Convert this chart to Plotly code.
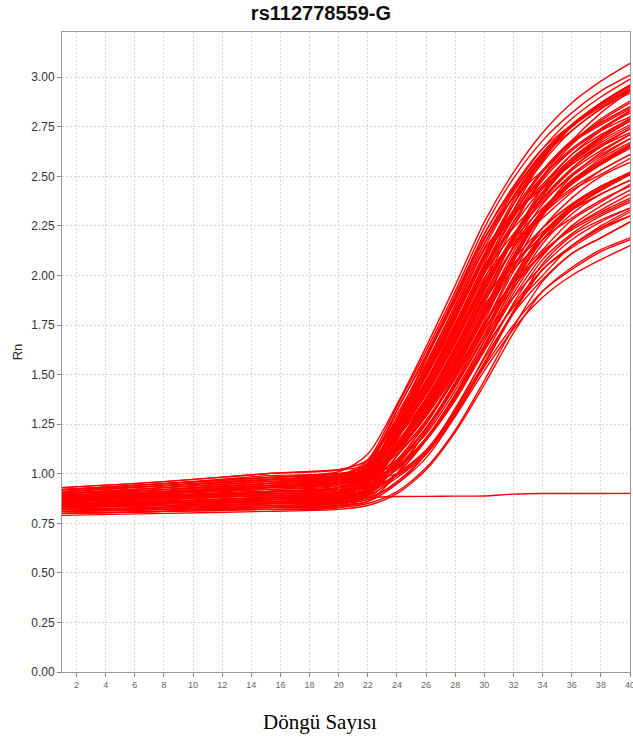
import plotly.graph_objects as go

cycles = [1, 8, 15, 20, 22, 24, 26, 28, 30, 32, 34, 36, 38, 40]

# Rn values of the amplification curves (one list per well)
curves = [
    [0.92, 0.95, 0.99, 1.01, 1.10, 1.35, 1.64, 1.95, 2.27, 2.52, 2.72, 2.87, 2.98, 3.07],
    [0.88, 0.90, 0.93, 0.95, 1.03, 1.32, 1.59, 1.89, 2.21, 2.44, 2.64, 2.79, 2.90, 2.99],
    [0.91, 0.94, 0.97, 0.99, 1.07, 1.34, 1.62, 1.92, 2.24, 2.49, 2.68, 2.82, 2.93, 3.01],
    [0.84, 0.86, 0.88, 0.89, 0.97, 1.24, 1.55, 1.85, 2.16, 2.40, 2.59, 2.76, 2.87, 2.96],
    [0.89, 0.92, 0.95, 0.97, 1.05, 1.32, 1.60, 1.90, 2.21, 2.45, 2.64, 2.76, 2.86, 2.94],
    [0.86, 0.88, 0.91, 0.92, 1.00, 1.28, 1.58, 1.88, 2.19, 2.39, 2.53, 2.67, 2.79, 2.88],
    [0.90, 0.93, 0.96, 0.98, 1.06, 1.28, 1.54, 1.83, 2.14, 2.40, 2.62, 2.76, 2.87, 2.95],
    [0.82, 0.83, 0.85, 0.86, 0.94, 1.24, 1.58, 1.87, 2.18, 2.43, 2.61, 2.75, 2.86, 2.94],
    [0.87, 0.89, 0.91, 0.93, 1.01, 1.28, 1.53, 1.82, 2.13, 2.31, 2.46, 2.61, 2.71, 2.79],
    [0.93, 0.96, 1.00, 1.02, 1.07, 1.30, 1.56, 1.85, 2.16, 2.42, 2.62, 2.75, 2.85, 2.93],
    [0.85, 0.87, 0.89, 0.90, 0.98, 1.25, 1.49, 1.78, 2.08, 2.36, 2.59, 2.76, 2.87, 2.96],
    [0.91, 0.94, 0.97, 0.99, 1.05, 1.28, 1.54, 1.83, 2.13, 2.31, 2.44, 2.56, 2.66, 2.74],
    [0.80, 0.81, 0.83, 0.84, 0.92, 1.20, 1.50, 1.81, 2.11, 2.36, 2.57, 2.73, 2.84, 2.94],
    [0.88, 0.90, 0.92, 0.94, 1.02, 1.26, 1.51, 1.80, 2.10, 2.33, 2.53, 2.68, 2.77, 2.85],
    [0.86, 0.88, 0.90, 0.91, 0.99, 1.27, 1.52, 1.80, 2.10, 2.38, 2.61, 2.75, 2.86, 2.94],
    [0.92, 0.95, 0.98, 1.00, 1.04, 1.24, 1.47, 1.75, 2.05, 2.24, 2.39, 2.54, 2.65, 2.74],
    [0.83, 0.84, 0.86, 0.87, 0.95, 1.24, 1.50, 1.78, 2.08, 2.32, 2.50, 2.64, 2.74, 2.82],
    [0.89, 0.91, 0.94, 0.96, 1.04, 1.24, 1.46, 1.74, 2.04, 2.33, 2.58, 2.75, 2.87, 2.96],
    [0.85, 0.86, 0.88, 0.89, 0.97, 1.24, 1.51, 1.79, 2.09, 2.30, 2.45, 2.59, 2.69, 2.78],
    [0.87, 0.89, 0.91, 0.93, 1.01, 1.23, 1.46, 1.73, 2.03, 2.30, 2.53, 2.67, 2.76, 2.84],
    [0.81, 0.82, 0.84, 0.85, 0.91, 1.18, 1.45, 1.72, 2.02, 2.27, 2.48, 2.63, 2.74, 2.83],
    [0.90, 0.93, 0.96, 0.98, 1.03, 1.25, 1.49, 1.76, 2.06, 2.36, 2.60, 2.73, 2.84, 2.92],
    [0.85, 0.87, 0.89, 0.90, 0.98, 1.22, 1.44, 1.71, 2.01, 2.21, 2.38, 2.53, 2.63, 2.71],
    [0.88, 0.90, 0.93, 0.95, 1.03, 1.24, 1.47, 1.74, 2.04, 2.29, 2.50, 2.63, 2.73, 2.80],
    [0.83, 0.85, 0.87, 0.88, 0.96, 1.20, 1.40, 1.67, 1.96, 2.25, 2.50, 2.68, 2.82, 2.93],
    [0.89, 0.91, 0.94, 0.96, 1.02, 1.22, 1.45, 1.72, 2.01, 2.25, 2.44, 2.57, 2.67, 2.75],
    [0.86, 0.88, 0.90, 0.91, 0.99, 1.21, 1.43, 1.70, 1.99, 2.17, 2.31, 2.43, 2.51, 2.59],
    [0.92, 0.95, 0.98, 1.00, 1.02, 1.20, 1.42, 1.69, 1.98, 2.27, 2.49, 2.66, 2.78, 2.87],
    [0.80, 0.81, 0.82, 0.83, 0.89, 1.18, 1.46, 1.73, 2.02, 2.31, 2.52, 2.67, 2.77, 2.85],
    [0.87, 0.89, 0.91, 0.93, 1.01, 1.18, 1.38, 1.64, 1.93, 2.20, 2.44, 2.61, 2.73, 2.83],
    [0.84, 0.85, 0.87, 0.88, 0.96, 1.20, 1.41, 1.67, 1.96, 2.18, 2.34, 2.47, 2.57, 2.65],
    [0.90, 0.92, 0.95, 0.97, 1.01, 1.18, 1.37, 1.63, 1.92, 2.19, 2.42, 2.58, 2.70, 2.79],
    [0.82, 0.83, 0.85, 0.86, 0.92, 1.17, 1.42, 1.68, 1.97, 2.16, 2.29, 2.42, 2.53, 2.61],
    [0.88, 0.90, 0.93, 0.95, 1.01, 1.19, 1.40, 1.66, 1.95, 2.20, 2.42, 2.56, 2.65, 2.72],
    [0.86, 0.88, 0.90, 0.91, 0.99, 1.16, 1.36, 1.62, 1.90, 2.18, 2.42, 2.59, 2.70, 2.79],
    [0.91, 0.94, 0.97, 0.99, 1.01, 1.19, 1.40, 1.66, 1.94, 2.19, 2.37, 2.50, 2.60, 2.69],
    [0.83, 0.85, 0.86, 0.87, 0.93, 1.14, 1.35, 1.61, 1.89, 2.06, 2.20, 2.33, 2.41, 2.48],
    [0.89, 0.91, 0.94, 0.96, 1.00, 1.18, 1.38, 1.64, 1.92, 2.20, 2.41, 2.57, 2.68, 2.76],
    [0.80, 0.81, 0.83, 0.84, 0.90, 1.14, 1.34, 1.60, 1.88, 2.14, 2.36, 2.51, 2.61, 2.69],
    [0.85, 0.87, 0.89, 0.90, 0.95, 1.14, 1.37, 1.61, 1.89, 2.18, 2.39, 2.54, 2.65, 2.74],
    [0.92, 0.95, 0.98, 1.00, 1.02, 1.15, 1.35, 1.59, 1.87, 2.08, 2.24, 2.36, 2.45, 2.51],
    [0.87, 0.89, 0.91, 0.93, 0.98, 1.14, 1.34, 1.58, 1.86, 2.15, 2.40, 2.57, 2.69, 2.78],
    [0.82, 0.83, 0.85, 0.86, 0.91, 1.14, 1.38, 1.62, 1.90, 2.14, 2.32, 2.44, 2.53, 2.61],
    [0.88, 0.90, 0.93, 0.95, 0.99, 1.14, 1.33, 1.57, 1.85, 2.03, 2.18, 2.33, 2.44, 2.52],
    [0.84, 0.85, 0.87, 0.88, 0.93, 1.12, 1.33, 1.56, 1.83, 2.12, 2.33, 2.47, 2.56, 2.64],
    [0.90, 0.93, 0.96, 0.98, 1.00, 1.12, 1.29, 1.52, 1.79, 2.07, 2.32, 2.50, 2.62, 2.71],
    [0.86, 0.88, 0.90, 0.91, 0.95, 1.13, 1.34, 1.57, 1.84, 2.05, 2.22, 2.33, 2.41, 2.48],
    [0.81, 0.82, 0.84, 0.85, 0.89, 1.09, 1.31, 1.55, 1.82, 2.10, 2.32, 2.46, 2.56, 2.65],
    [0.93, 0.96, 1.00, 1.02, 1.04, 1.12, 1.31, 1.54, 1.81, 2.10, 2.33, 2.47, 2.57, 2.65],
    [0.87, 0.89, 0.91, 0.93, 0.96, 1.13, 1.32, 1.55, 1.81, 2.09, 2.32, 2.48, 2.58, 2.66],
    [0.83, 0.85, 0.86, 0.87, 0.90, 1.06, 1.26, 1.50, 1.76, 1.97, 2.13, 2.28, 2.37, 2.46],
    [0.89, 0.91, 0.94, 0.96, 0.98, 1.12, 1.30, 1.53, 1.79, 2.04, 2.24, 2.36, 2.45, 2.51],
    [0.85, 0.86, 0.88, 0.89, 0.92, 1.07, 1.25, 1.49, 1.75, 2.04, 2.30, 2.46, 2.56, 2.65],
    [0.91, 0.94, 0.97, 0.99, 1.01, 1.12, 1.31, 1.54, 1.80, 2.08, 2.31, 2.47, 2.59, 2.67],
    [0.86, 0.88, 0.90, 0.91, 0.94, 1.09, 1.26, 1.48, 1.74, 2.02, 2.24, 2.39, 2.50, 2.57],
    [0.82, 0.83, 0.85, 0.86, 0.89, 1.04, 1.23, 1.46, 1.73, 1.94, 2.11, 2.24, 2.32, 2.39],
    [0.88, 0.90, 0.93, 0.95, 0.97, 1.11, 1.29, 1.51, 1.77, 2.08, 2.32, 2.48, 2.57, 2.66],
    [0.84, 0.85, 0.87, 0.88, 0.91, 1.05, 1.23, 1.46, 1.72, 1.98, 2.21, 2.35, 2.44, 2.52],
    [0.90, 0.92, 0.95, 0.97, 0.99, 1.10, 1.27, 1.49, 1.75, 1.96, 2.11, 2.24, 2.33, 2.41],
    [0.87, 0.89, 0.91, 0.92, 0.94, 1.06, 1.20, 1.42, 1.67, 1.95, 2.20, 2.34, 2.43, 2.51],
    [0.81, 0.82, 0.83, 0.84, 0.86, 1.00, 1.22, 1.46, 1.72, 1.99, 2.20, 2.34, 2.43, 2.51],
    [0.89, 0.91, 0.94, 0.96, 0.98, 1.07, 1.23, 1.45, 1.70, 1.99, 2.21, 2.35, 2.45, 2.52],
    [0.85, 0.86, 0.88, 0.89, 0.91, 1.03, 1.21, 1.44, 1.69, 1.89, 2.05, 2.18, 2.27, 2.34],
    [0.86, 0.88, 0.89, 0.90, 0.92, 1.05, 1.23, 1.44, 1.69, 1.97, 2.18, 2.29, 2.38, 2.45],
    [0.92, 0.94, 0.97, 0.99, 1.01, 1.04, 1.18, 1.39, 1.64, 1.89, 2.10, 2.25, 2.35, 2.43],
    [0.83, 0.84, 0.85, 0.86, 0.88, 1.00, 1.17, 1.40, 1.67, 1.95, 2.18, 2.33, 2.43, 2.51],
    [0.88, 0.90, 0.92, 0.94, 0.96, 1.04, 1.17, 1.38, 1.63, 1.84, 2.00, 2.15, 2.24, 2.32],
    [0.84, 0.85, 0.87, 0.88, 0.90, 1.00, 1.17, 1.39, 1.64, 1.91, 2.12, 2.23, 2.31, 2.38],
    [0.90, 0.92, 0.95, 0.97, 0.99, 1.03, 1.17, 1.37, 1.62, 1.85, 2.03, 2.15, 2.25, 2.33],
    [0.81, 0.82, 0.83, 0.84, 0.86, 0.95, 1.10, 1.32, 1.59, 1.86, 2.08, 2.21, 2.30, 2.37],
    [0.87, 0.89, 0.91, 0.92, 0.94, 1.02, 1.18, 1.40, 1.65, 1.93, 2.16, 2.31, 2.41, 2.48],
    [0.85, 0.86, 0.88, 0.89, 0.91, 1.00, 1.12, 1.32, 1.56, 1.82, 2.03, 2.15, 2.24, 2.30],
    [0.82, 0.83, 0.84, 0.85, 0.87, 0.96, 1.10, 1.33, 1.58, 1.81, 1.98, 2.11, 2.19, 2.27],
    [0.89, 0.91, 0.93, 0.95, 0.97, 1.00, 1.11, 1.31, 1.55, 1.82, 2.06, 2.20, 2.28, 2.34],
    [0.83, 0.84, 0.85, 0.86, 0.88, 0.95, 1.08, 1.29, 1.55, 1.81, 2.03, 2.14, 2.23, 2.30],
    [0.86, 0.88, 0.90, 0.91, 0.93, 0.99, 1.11, 1.30, 1.54, 1.75, 1.92, 2.03, 2.12, 2.18],
    [0.80, 0.81, 0.82, 0.83, 0.85, 0.91, 1.03, 1.22, 1.47, 1.74, 1.97, 2.11, 2.19, 2.27],
    [0.84, 0.85, 0.86, 0.87, 0.89, 0.98, 1.10, 1.29, 1.52, 1.73, 1.89, 2.00, 2.08, 2.15],
    [0.79, 0.80, 0.81, 0.82, 0.84, 0.90, 1.02, 1.21, 1.45, 1.71, 1.92, 2.04, 2.13, 2.19],
]

# the one well that never amplified
flat_curve = [0.85, 0.86, 0.87, 0.87, 0.88, 0.885, 0.886, 0.887, 0.888, 0.897, 0.900, 0.900, 0.900, 0.901]

x_ticks = list(range(2, 41, 2))
y_ticks = [0.00, 0.25, 0.50, 0.75, 1.00, 1.25, 1.50, 1.75, 2.00, 2.25, 2.50, 2.75, 3.00]

title_text = "rs112778559-G"
x_title = "Döngü Sayısı"
y_title = "Rn"

fig = go.Figure()
for ys in curves + [flat_curve]:
    fig.add_trace(go.Scatter(
        x=cycles, y=ys, mode="lines",
        line=dict(color="rgb(255,0,0)", width=1.4, shape="spline", smoothing=0.8),
        showlegend=False, hoverinfo="skip",
    ))

grid = dict(showgrid=True, gridcolor="#d6d6d6", gridwidth=1, griddash="2px,2px")
fig.update_xaxes(
    range=[1, 40], tickvals=x_ticks, ticks="outside", ticklen=4, tickcolor="#888",
    tickfont=dict(family="Liberation Sans, Arial", size=9, color="#666"),
    ticklabeloverflow="allow",
    showline=True, linecolor="#999", linewidth=1, mirror=True, zeroline=False, **grid,
)
fig.update_yaxes(
    range=[0, 3.228], tickvals=y_ticks, tickformat=".2f", ticks="outside", ticklen=4,
    tickcolor="#888", tickfont=dict(family="Liberation Sans, Arial", size=12, color="#333"),
    showline=True, linecolor="#999", linewidth=1, mirror=True, zeroline=False,
    title=dict(text=y_title, font=dict(family="Liberation Sans, Arial", size=13, color="#222"), standoff=5),
    **grid,
)

fig.update_layout(
    width=633, height=740,
    margin=dict(l=62, r=3, t=32, b=68, autoexpand=False),
    paper_bgcolor="white", plot_bgcolor="white",
    title=dict(text="<b>" + title_text + "</b>", x=0.507, xref="container", xanchor="center",
               y=0.983, yref="container", yanchor="middle",
               font=dict(family="Liberation Sans, Arial", size=20, color="#111")),
    annotations=[dict(
        text=x_title, xref="paper", yref="paper", x=(320 - 62) / 568, y=(672.3 - 722) / 640,
        xanchor="center", yanchor="middle", showarrow=False,
        font=dict(family="Liberation Serif, Times New Roman", size=21, color="#000"),
    )],
)

fig.write_html("out.html")
